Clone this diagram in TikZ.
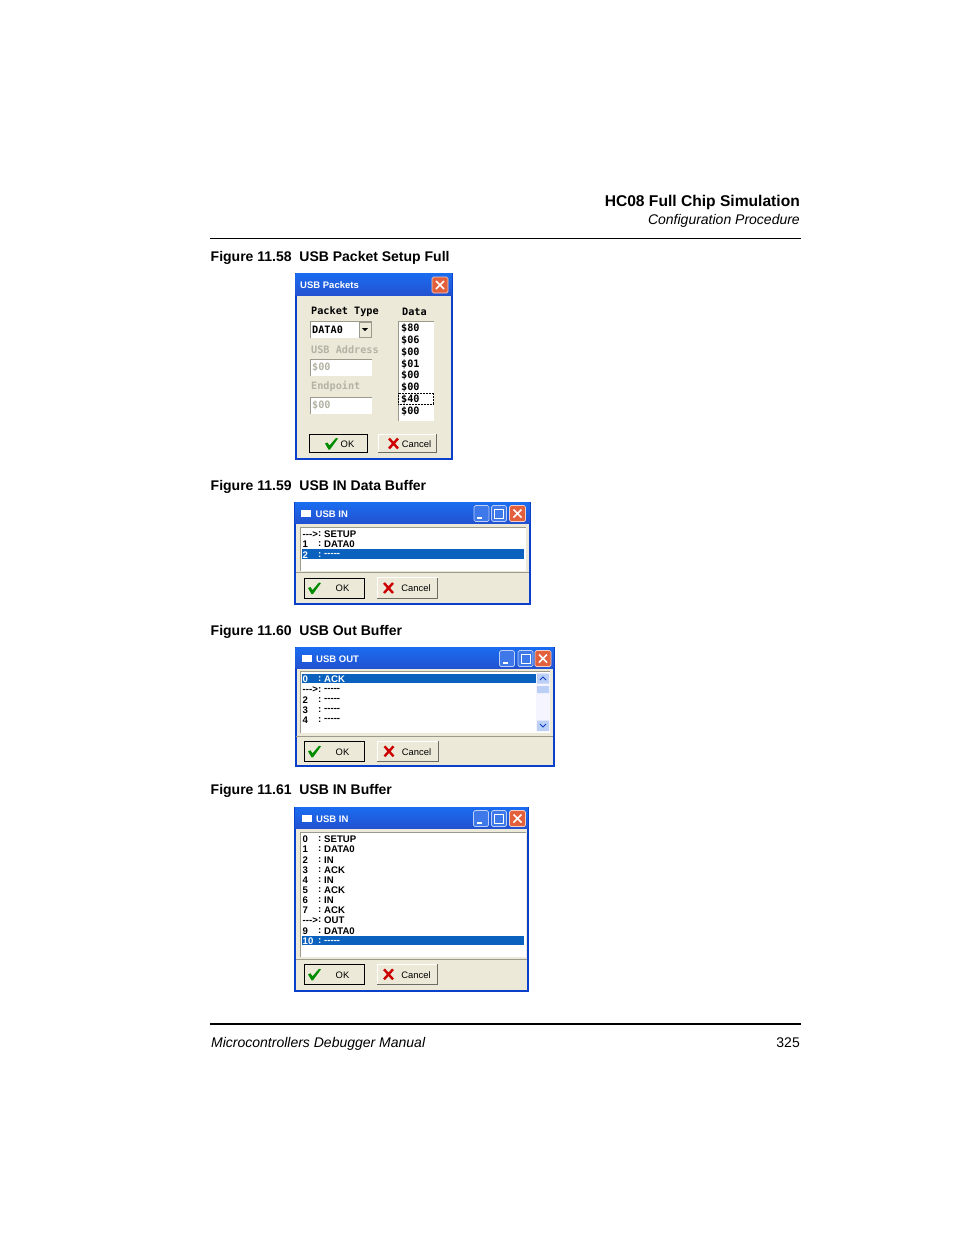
\documentclass[tikz,border=0pt]{standalone}
\usepackage{fontspec}
\setmainfont{Liberation Sans}
\newfontfamily\monofnt{DejaVu Sans Mono}
\newfontfamily\guifnt{Liberation Sans}
\definecolor{xpface}{HTML}{ECE9D8}
\definecolor{xpblue}{HTML}{0A3FCB}
\definecolor{xptop}{HTML}{1A6CF0}
\definecolor{xphigh}{HTML}{0A62BE}
\definecolor{xpedge}{HTML}{9C9A8C}
\definecolor{xpgrey}{HTML}{B4B2A4}
\definecolor{xpbtn}{HTML}{3F78E8}
\definecolor{xpred}{HTML}{E2603C}
\tikzset{
	txt/.style={inner sep=0pt,anchor=base west},
	pagetxt/.style={txt,font=\fontsize{14}{16}\selectfont},
	pagebold/.style={txt,font=\bfseries\fontsize{14}{16}\selectfont},
	title/.style={inner sep=0pt,anchor=west,text=white,font=\guifnt\bfseries\fontsize{9.5}{11}\selectfont},
	rowtxt/.style={inner sep=0pt,anchor=west,yshift=-.8pt,font=\guifnt\bfseries\fontsize{9.6}{11}\selectfont},
	monotxt/.style={inner sep=0pt,anchor=west,yshift=-.8pt,font=\monofnt\bfseries\fontsize{10.2}{11}\selectfont},
	offtxt/.style={monotxt,text=xpgrey},
	btntxt/.style={inner sep=0pt,yshift=-.5pt,font=\guifnt\fontsize{9.4}{11}\selectfont},
	okbox/.style={draw=black,line width=1pt,fill=xpface,inner sep=0pt},
	nobox/.style={fill=xpface,inner sep=0pt},
	capbox/.style={draw=xpbtn!35!white,line width=.7pt,fill=xpbtn,rounded corners=1.5pt},
}
\newcommand{\winframe}[5]{
	\fill[xpface,draw=xpblue,line width=2pt] (#1,#2) rectangle (#3,#4);
	\shade[top color=xptop,bottom color=xpblue!90!white] (#1,#2) rectangle (#3,#5);
}
\newcommand{\capbtns}[4]{
	\draw[capbox] (#1,#4) rectangle ++(15,16);
	\fill[white] (#1+3,#4+11) rectangle ++(5,2);
	\draw[capbox] (#2,#4) rectangle ++(15,16);
	\draw[white,line width=1pt] (#2+3,#4+4) rectangle ++(9,9);
	\closebtn{#3}{#4}
}
\newcommand{\closebtn}[2]{
	\draw[capbox,draw=white!70!xpred,fill=xpred] (#1,#2) rectangle ++(16,16);
	\draw[white,line width=1.6pt] (#1+4,#2+4) -- ++(8,8) (#1+12,#2+4) -- ++(-8,8);
}
\newcommand{\sunkbox}[4]{
	\fill[white] (#1,#2) rectangle (#3,#4);
	\draw[xpedge,line width=1pt] (#1,#4) -- (#1,#2) -- (#3,#2);
}
\newcommand{\okbtn}[6]{
	\node[okbox,minimum width=#3,minimum height=#4] at (#2) (#1) {};
	\fill[green!55!black,shift={(#1.center)},xshift=#5] (-6.5,0) -- (-4,-1) -- (-2,2) -- (4.5,-5.5) -- (6.5,-5) -- (-1.5,6) -- (-3,6) -- cycle;
	\node[btntxt,xshift=#6] at (#1.center) (#1 t) {OK};
}
\newcommand{\cancelbtn}[6]{
	\node[nobox,minimum width=#3,minimum height=#4] at (#2) (#1) {};
	\draw[white,line width=1pt] (#1.south west) -- (#1.north west) -- (#1.north east);
	\draw[xpedge!70!black,line width=1pt] (#1.north east) -- (#1.south east) -- (#1.south west);
	\draw[red!80!black,line width=2.4pt,shift={(#1.center)},xshift=#5] (-4.5,-5) -- (4.5,5) (4.5,-5) -- (-4.5,5);
	\node[btntxt,xshift=#6] at (#1.center) (#1 t) {Cancel};
}
\newcommand{\pktrow}[5][black]{
	\node[rowtxt,text=#1] at (302.5,#3) (#2 i) {#4};
	\node[rowtxt,text=#1] at (318,#3) (#2 c) {:};
	\node[rowtxt,text=#1] at (324,#3) (#2 p) {#5};
}

\begin{document}
\begin{tikzpicture}[x=1pt,y=-1pt]
	\useasboundingbox (0,0) rectangle (954,1235);

	% page head
	\node[pagebold,anchor=base east,font=\bfseries\fontsize{15.6}{17}\selectfont] at (800,206) (head) {HC08 Full Chip Simulation};
	\node[pagetxt,anchor=base east,font=\itshape\fontsize{14}{16}\selectfont] at (800,224) (sub) {Configuration Procedure};
	\draw[line width=.8pt] (210,238.5) -- (801,238.5);
	\node[pagebold] at (210.5,261) (cap58) {Figure 11.58\ \ USB Packet Setup Full};
	\node[pagebold] at (210.5,490) (cap59) {Figure 11.59\ \ USB IN Data Buffer};
	\node[pagebold] at (210.5,635) (cap60) {Figure 11.60\ \ USB Out Buffer};
	\node[pagebold] at (210.5,794) (cap61) {Figure 11.61\ \ USB IN Buffer};

	% packet setup
	\winframe{295.5}{273.5}{452}{459}{295}
	\closebtn{432}{277}
	\node[title] at (300,285) (w1) {USB Packets};
	\node[monotxt] at (311,311) (ptype) {Packet Type};
	\node[monotxt] at (402,311) (dhead) {Data};
	\sunkbox{310}{321}{372}{338}
	\node[monotxt] at (312,329) (dsel) {DATA0};
	\node[draw=xpedge,fill=xpface,inner sep=0pt,minimum width=12,minimum height=15] at (365,329.5) (drop) {};
	\fill (362,328) -- (368,328) -- (365,331) -- cycle;
	\node[offtxt] at (311,349) (uaddr) {USB Address};
	\sunkbox{310}{359}{372}{376}
	\node[offtxt] at (312,367) (addrv) {\$00};
	\node[offtxt] at (311,386) (endp) {Endpoint};
	\sunkbox{310}{397}{372}{414}
	\node[offtxt] at (312,405) (endv) {\$00};
	\sunkbox{398}{321}{434}{421}
	\node[monotxt] at (401,327.5) (d0) {\$80};
	\node[monotxt] at (401,339.5) (d1) {\$06};
	\node[monotxt] at (401,351.5) (d2) {\$00};
	\node[monotxt] at (401,363.5) (d3) {\$01};
	\node[monotxt] at (401,375) (d4) {\$00};
	\node[monotxt] at (401,386.5) (d5) {\$00};
	\node[monotxt] at (401,398.5) (d6) {\$40};
	\node[monotxt] at (401,410.5) (d7) {\$00};
	\draw[densely dotted,line width=.5pt] (398.5,393) rectangle (433.5,404);
	\okbtn{ok1}{338.5,443.5}{58}{18}{-7}{9}
	\cancelbtn{no1}{407.5,443.5}{58}{18}{-14}{9}

	% usb in data buffer
	\winframe{295}{502.5}{529.5}{604}{523}
	\fill[white] (301,510) rectangle (311,517);
	\node[title] at (315.5,514) (w2) {USB IN};
	\capbtns{474}{491.5}{509.5}{505.5}
	\sunkbox{300.5}{527}{525.5}{571}
	\fill[xphigh] (301.5,549.3) rectangle (523.5,558.7);
	\pktrow{a0}{533.5}{-{}-{}->}{SETUP}
	\pktrow{a1}{543.7}{1}{DATA0}
	\pktrow[white]{a2}{554}{2}{-{}-{}-{}-{}-}
	\draw[white] (296,572.5) -- (528.5,572.5);
	\draw[xpedge] (296,571.8) -- (528.5,571.8);
	\okbtn{ok2}{334.5,588}{60}{20}{-20}{8}
	\cancelbtn{no2}{407.5,588}{60}{20}{-19}{8.5}

	% usb out buffer
	\winframe{295.5}{647.5}{553.5}{766}{668}
	\fill[white] (301.5,655) rectangle (311.5,662);
	\node[title] at (316,659) (w3) {USB OUT};
	\capbtns{499.5}{518}{535}{650.5}
	\sunkbox{300.5}{671.7}{550}{733}
	\fill[xphigh] (301.5,674.3) rectangle (535.5,682.7);
	\pktrow[white]{b0}{678.5}{0}{ACK}
	\pktrow{b1}{689}{-{}-{}->}{-{}-{}-{}-{}-}
	\pktrow{b2}{699.3}{2}{-{}-{}-{}-{}-}
	\pktrow{b3}{709}{3}{-{}-{}-{}-{}-}
	\pktrow{b4}{719}{4}{-{}-{}-{}-{}-}
	\fill[blue!4!white] (536,673) rectangle (549.5,731);
	\fill[xpbtn!35!white] (537,673.5) rectangle (549,683.5) (537,686) rectangle (549,693) (537,720.5) rectangle (549,731);
	\draw[xpblue,line width=1pt] (540,680) -- (543,677) -- (546,680) (540,724) -- (543,727) -- (546,724);
	\draw[white] (296,736.5) -- (552.5,736.5);
	\draw[xpedge] (296,735.8) -- (552.5,735.8);
	\okbtn{ok3}{334.5,751.3}{60}{20}{-20}{8}
	\cancelbtn{no3}{408,751.3}{61}{20}{-19}{8.5}

	% usb in buffer
	\winframe{295}{807.5}{528}{991}{828}
	\fill[white] (301.5,815) rectangle (311.5,822);
	\node[title] at (316,819) (w4) {USB IN};
	\capbtns{473.5}{491.5}{509.5}{810.5}
	\sunkbox{300.5}{832.5}{525.5}{957}
	\fill[xphigh] (301.5,935.7) rectangle (523.5,945.3);
	\pktrow{c0}{838.5}{0}{SETUP}
	\pktrow{c1}{848.7}{1}{DATA0}
	\pktrow{c2}{859}{2}{IN}
	\pktrow{c3}{869.3}{3}{ACK}
	\pktrow{c4}{879.5}{4}{IN}
	\pktrow{c5}{889.5}{5}{ACK}
	\pktrow{c6}{899.5}{6}{IN}
	\pktrow{c7}{909.5}{7}{ACK}
	\pktrow{c8}{919.7}{-{}-{}->}{OUT}
	\pktrow{c9}{930}{9}{DATA0}
	\pktrow[white]{c10}{940.7}{10}{-{}-{}-{}-{}-}
	\draw[white] (296,959.5) -- (527,959.5);
	\draw[xpedge] (296,958.8) -- (527,958.8);
	\okbtn{ok4}{334.5,974.3}{60}{20}{-20}{8}
	\cancelbtn{no4}{407.5,974.3}{60}{20}{-19}{8.5}

	% page foot
	\draw[line width=1.6pt] (210,1024) -- (801,1024);
	\node[pagetxt,font=\itshape\fontsize{14}{16}\selectfont] at (211,1047) (manual) {Microcontrollers Debugger Manual};
	\node[pagetxt,anchor=base east] at (800,1047) (pageno) {325};
\end{tikzpicture}
\end{document}
